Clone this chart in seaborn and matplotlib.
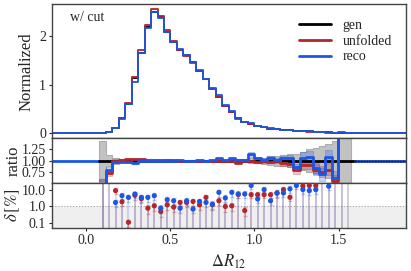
import numpy as np
import pandas as pd
import matplotlib
matplotlib.use('Agg')
import matplotlib.pyplot as plt
from matplotlib.lines import Line2D
from matplotlib.ticker import FixedLocator, NullLocator, FixedFormatter
import seaborn as sns

# ---- data ----
XMIN, XMAX = -0.2, 1.9
edges = np.linspace(0.08, 1.575, 40)   # 39 bins of delta R_12

gen = [0.004, 0.035, 0.12, 0.31, 0.61, 1.13, 1.66, 2.19, 2.50, 2.39,
       2.09, 1.88, 1.71, 1.60, 1.46, 1.29, 1.12, 0.92, 0.745, 0.57,
       0.435, 0.32, 0.24, 0.195, 0.153, 0.124, 0.097, 0.085, 0.077, 0.066,
       0.058, 0.05, 0.043, 0.036, 0.03, 0.024, 0.018, 0.012, 0.008]

# ratios to gen
ratio_unfolded = [0.30, 0.72, 1.00, 1.02, 1.03, 1.03, 1.035, 1.02, 1.02, 1.01,
                  1.02, 1.01, 1.00, 0.99, 0.99, 0.995, 0.99, 0.99, 1.00, 0.99,
                  0.99, 0.957, 0.99, 1.00, 0.98, 0.99, 0.98, 0.99, 0.94, 0.92,
                  0.78, 0.90, 0.906, 0.80, 0.75, 0.80, 0.54, 1.60, np.nan]
ratio_reco = [0.30, 0.79, 0.98, 0.98, 0.98, 0.94, 0.99, 0.99, 1.00, 0.99,
              1.00, 1.00, 1.01, 1.00, 1.00, 1.01, 1.00, 1.01, 1.05, 1.01,
              1.05, 1.02, 1.01, 1.14, 1.05, 1.02, 1.065, 1.015, 1.05, 1.065,
              0.86, 1.07, 1.087, 0.83, 0.69, 1.087, 0.62, 1.80, np.nan]

# band half widths (ratio units)
err_gen = [0.45, 0.12, 0.07, 0.04, 0.025, 0.02, 0.015, 0.015, 0.012, 0.012,
           0.012, 0.012, 0.013, 0.013, 0.014, 0.015, 0.016, 0.017, 0.019, 0.021,
           0.03, 0.035, 0.04, 0.05, 0.06, 0.07, 0.1, 0.11, 0.13, 0.14,
           0.16, 0.2, 0.25, 0.28, 0.33, 0.38, 0.45, 1.5, 1.5]
err_unfolded = [0.3, 0.06, 0.03, 0.02, 0.015, 0.012, 0.01, 0.01, 0.01, 0.01,
                0.01, 0.01, 0.01, 0.01, 0.012, 0.012, 0.013, 0.014, 0.015, 0.016,
                0.018, 0.02, 0.022, 0.025, 0.03, 0.035, 0.04, 0.045, 0.05, 0.06,
                0.08, 0.09, 0.1, 0.12, 0.12, 0.12, 0.13, 0.6, np.nan]
err_reco = [0.3, 0.06, 0.03, 0.02, 0.015, 0.012, 0.01, 0.01, 0.01, 0.01,
            0.01, 0.01, 0.01, 0.01, 0.012, 0.012, 0.013, 0.014, 0.015, 0.016,
            0.02, 0.02, 0.025, 0.05, 0.03, 0.035, 0.045, 0.05, 0.055, 0.06,
            0.07, 0.12, 0.14, 0.12, 0.15, 0.15, 0.15, 0.6, np.nan]

# relative uncertainty delta [%]
delta_unfolded = [50, 50, 8.6, 1.83, 0.105, 4.5, 2.8, 0.75, 1.04, 0.47,
                  1.2, 0.87, 1.66, 1.66, 1.91, 1.2, 3.36, 1.2, 2.1, 0.95,
                  1.04, 5.0, 0.54, 4.9, 4.9, 4.9, 4.9, 6.0, 9.9, 3.4,
                  40, 16.5, 17.5, 17.5, 40, 40, 40, 40, np.nan]
delta_reco = [50, 50, 1.66, 4.26, 3.36, 5.4, 3.36, 3.36, 4.26, 0.75,
              2.43, 2.1, 0.75, 2.1, 0.66, 1.91, 1.66, 1.3, 6.8, 3.1,
              6.8, 5.4, 5.4, 17.5, 2.7, 9.9, 2.1, 6.2, 6.2, 11,
              17.5, 10, 8.6, 9.9, 40, 15.8, 40, 40, np.nan]
delta_err_unfolded = [10, 10, 3, 0.8, 0.05, 2, 1.2, 0.4, 0.5, 0.25,
                      0.6, 0.4, 0.8, 0.8, 0.9, 0.6, 1.5, 0.6, 1, 0.5,
                      0.5, 2, 0.3, 2, 2, 2, 2, 3, 4, 1.5,
                      10, 7, 7, 7, 10, 10, 10, 10, np.nan]
delta_err_reco = [10, 10, 0.8, 1.8, 1.5, 2.2, 1.5, 1.5, 1.8, 0.35,
                  1.1, 1, 0.35, 1, 0.3, 0.9, 0.8, 0.6, 3, 1.4,
                  3, 2.4, 2.4, 7, 1.2, 4, 1, 2.8, 2.8, 5,
                  7, 4.5, 4, 4.5, 10, 7, 10, 10, np.nan]

RED = '#b3262b'
BLUE = '#1b56e4'

sns.set_style('ticks')
plt.rcParams['font.family'] = ['Liberation Serif', 'DejaVu Serif']
plt.rcParams['mathtext.fontset'] = 'stix'
plt.rcParams['axes.edgecolor'] = '#444444'
plt.rcParams['axes.linewidth'] = 1.0

centers = 0.5 * (edges[:-1] + edges[1:])
x_ext = np.concatenate([[XMIN], edges, [XMAX]])


def ext(vals, pad):
    return np.concatenate([[pad], np.asarray(vals, float), [pad, pad]])


def last(vals):
    v = np.asarray(vals, float)
    return np.append(v, v[-1])


gen_a = np.array(gen)
unf_a = gen_a * np.array(ratio_unfolded)
reco_a = gen_a * np.array(ratio_reco)
unf_a[0] = gen_a[0]; reco_a[0] = gen_a[0]
unf_a[-1] = gen_a[-1]; reco_a[-1] = gen_a[-1]

fig = plt.figure(figsize=(4.11, 2.71), dpi=100)
gs = fig.add_gridspec(3, 1, height_ratios=[3, 1, 1], hspace=0,
                      left=0.127, right=0.988, top=0.984, bottom=0.16)
ax0 = fig.add_subplot(gs[0])
ax1 = fig.add_subplot(gs[1], sharex=ax0)
ax2 = fig.add_subplot(gs[2], sharex=ax0)

# ---- top: normalized distributions ----
band_sets = [(gen_a, err_gen, 'grey'), (unf_a, err_unfolded, RED), (reco_a, err_reco, BLUE)]
for vals, err, c in band_sets:
    e = np.nan_to_num(np.array(err, float)) * 0.5
    ax0.fill_between(edges, last(vals * (1 - e)), last(vals * (1 + e)),
                     step='post', color=c, alpha=0.35, lw=0)

top = pd.DataFrame({
    'x': np.tile(x_ext, 3),
    'y': np.concatenate([ext(gen_a, 0), ext(unf_a, 0), ext(reco_a, 0)]),
    'sample': np.repeat(['gen', 'unfolded', 'reco'], len(x_ext)),
})
sns.lineplot(data=top, x='x', y='y', hue='sample',
             palette={'gen': 'black', 'unfolded': RED, 'reco': BLUE},
             estimator=None, sort=False, drawstyle='steps-post',
             lw=1.3, legend=False, ax=ax0)
ax0.set_ylim(-0.1, 2.65)
ax0.set_yticks([0, 1, 2])
ax0.set_ylabel('Normalized', fontsize=12)
ax0.text(0.05, 0.9, 'w/ cut', transform=ax0.transAxes, fontsize=10, va='center')
handles = [Line2D([], [], color=c, lw=2) for c in ['black', RED, BLUE]]
ax0.legend(handles, ['gen', 'unfolded', 'reco'], loc='upper right',
           bbox_to_anchor=(0.995, 0.985), frameon=False, fontsize=10,
           handlelength=2.3, labelspacing=0.2, handletextpad=0.8)

# ---- middle: ratio ----
g_err = np.array(err_gen)
ax1.fill_between(edges, last(1 - g_err), last(1 + g_err), step='post',
                 color='#a8a8a8', alpha=0.7, lw=0.8, edgecolor='#999999')
for r, err, c in [(ratio_unfolded, err_unfolded, RED), (ratio_reco, err_reco, BLUE)]:
    r = np.array(r); err = np.array(err)
    ax1.fill_between(edges, last(r - err), last(r + err), step='post',
                     color=c, alpha=0.25, lw=0.8, edgecolor=c)
ax1.plot([XMIN, edges[0]], [1, 1], color=BLUE, lw=2)
ax1.plot([edges[0], edges[-1] + 0.02], [1, 1], color='black', lw=2)
ax1.plot([edges[-1] + 0.02, XMAX], [1, 1], color='#1a3fb0', lw=2)
ax1.plot([edges[-1] + 0.02, XMAX], [1, 1], color='#0a1a60', lw=1, ls=(0, (1, 1)))
ax1.step(edges, last(ratio_unfolded), where='post', color=RED, lw=2)
ax1.step(edges, last(ratio_reco), where='post', color=BLUE, lw=2)
ax1.set_ylim(0.5, 1.5)
ax1.set_yticks([0.75, 1.0, 1.25])
ax1.set_yticklabels(['0.75', '1.00', '1.25'])
ax1.set_ylabel('ratio', fontsize=12)

# ---- bottom: delta [%] ----
ax2.set_yscale('log')
ax2.set_ylim(0.05, 25)
ax2.axhspan(0.05, 1.0, color='#efefef', zorder=0, lw=0)
ax2.axhline(1.0, color='#aaaaaa', ls=':', lw=0.8, zorder=1)
ax2.vlines(centers[[0, 38]], 0.05, 25, color='#888888', alpha=0.45, lw=1.2, zorder=1)
for d, de, c in [(delta_unfolded, delta_err_unfolded, RED), (delta_reco, delta_err_reco, BLUE)]:
    d = np.array(d); de = np.array(de)
    ok = ~np.isnan(d)
    ax2.vlines(centers[ok], 0.05, d[ok], color=c, alpha=0.22, lw=1.2, zorder=1)
    ax2.errorbar(centers[ok], d[ok], yerr=de[ok], fmt='none', ecolor=c,
                 alpha=0.3, elinewidth=0.6, capsize=1.5, zorder=2)
    sns.scatterplot(x=centers[ok], y=d[ok], color=c, s=14, edgecolor='none',
                    zorder=3, ax=ax2)
ax2.yaxis.set_major_locator(FixedLocator([0.1, 1.0, 10.0]))
ax2.yaxis.set_major_formatter(FixedFormatter(['0.1', '1.0', '10.0']))
ax2.yaxis.set_minor_locator(NullLocator())
ax2.set_ylabel(r'$\delta\,[\%]$', fontsize=12)

ax2.set_xlim(XMIN, XMAX)
ax2.set_xticks([0.0, 0.5, 1.0, 1.5])
ax2.set_xticklabels(['0.0', '0.5', '1.0', '1.5'])
ax2.set_xlabel(r'$\Delta R_{12}$', fontsize=12)
for ax in (ax0, ax1, ax2):
    ax.tick_params(labelsize=10, length=2.5, width=0.8, pad=2)
for ax in (ax0, ax1):
    ax.tick_params(labelbottom=False)
    ax.set_xlabel('')

# label positions (right edge of rotated label, axes fraction)
ax0.yaxis.set_label_coords(-0.049, 0.5)
ax1.yaxis.set_label_coords(-0.085, 0.5)
ax2.yaxis.set_label_coords(-0.085, 0.5)

fig.savefig('out.png', dpi=100)
